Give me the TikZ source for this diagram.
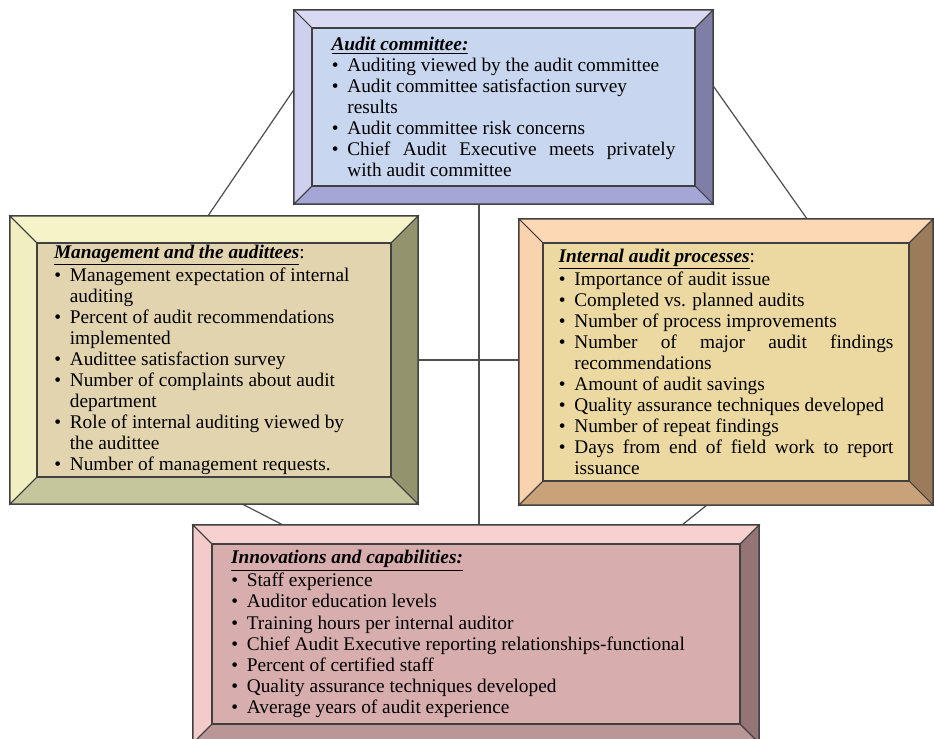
\documentclass[tikz,border=0pt]{standalone}
\usepackage{fontspec}
\setmainfont{Liberation Serif}
\usepackage{enumitem}
\usepackage{tikz}
\usetikzlibrary{backgrounds}
\usetikzlibrary{calc}
\usetikzlibrary{positioning}

\definecolor{acTop}{HTML}{D9D9F3}
\definecolor{acLeft}{HTML}{CFCFEE}
\definecolor{acRight}{HTML}{7E7EA6}
\definecolor{acBot}{HTML}{A6A6D6}
\definecolor{acFace}{HTML}{C9D6EF}
\definecolor{maTop}{HTML}{F6F3C9}
\definecolor{maLeft}{HTML}{F1EEC2}
\definecolor{maRight}{HTML}{93946E}
\definecolor{maBot}{HTML}{C6C69C}
\definecolor{maFace}{HTML}{E3D4B0}
\definecolor{ipTop}{HTML}{FCD8B4}
\definecolor{ipLeft}{HTML}{F8D3AE}
\definecolor{ipRight}{HTML}{9C7B5B}
\definecolor{ipBot}{HTML}{C9A27A}
\definecolor{ipFace}{HTML}{ECD9A2}
\definecolor{icTop}{HTML}{F7D0D0}
\definecolor{icLeft}{HTML}{F3CBCB}
\definecolor{icRight}{HTML}{947474}
\definecolor{icBot}{HTML}{BA9696}
\definecolor{icFace}{HTML}{D8ADAE}
\definecolor{linkgray}{HTML}{505050}

\setlist[itemize]{nosep, leftmargin=9pt, labelsep=5pt, labelwidth=4pt, label=\textbullet}

% bevel round an outer node: node, width, top, left, right, bottom
\newcommand{\bevelframe}[6]{%
  \filldraw[fill=#3] (#1.north west) -- (#1.north east) -- ($(#1.north east)+(-#2,#2)$) -- ($(#1.north west)+(#2,#2)$) -- cycle;
  \filldraw[fill=#4] (#1.north west) -- ($(#1.north west)+(#2,#2)$) -- ($(#1.south west)+(#2,-#2)$) -- (#1.south west) -- cycle;
  \filldraw[fill=#5] (#1.north east) -- ($(#1.north east)+(-#2,#2)$) -- ($(#1.south east)+(-#2,-#2)$) -- (#1.south east) -- cycle;
  \filldraw[fill=#6] (#1.south west) -- ($(#1.south west)+(#2,-#2)$) -- ($(#1.south east)+(-#2,-#2)$) -- (#1.south east) -- cycle;
}

\begin{document}
\begin{tikzpicture}[
            x = 0.02cm, y = -0.02cm, % pixel grid
            line join = miter,
            draw = black!75,
            line width = 0.6pt
        ]

        \tikzstyle{frame}=[
            draw = black!75,
            inner sep = 0pt,
            outer sep = 0pt
        ]
        \tikzstyle{facetext}=[
            frame,
            align = justify,
            font = \fontsize{11}{12}\selectfont
        ]
        \tikzstyle{link}=[
            draw = linkgray,
            line width = 0.7pt
        ]

        \useasboundingbox (0,0) rectangle (934,738);

	% audit committee
        \node[frame, minimum width=419*0.02cm, minimum height=194*0.02cm] (acO) at (503.5,107) {};
        \bevelframe{acO}{18}{acTop}{acLeft}{acRight}{acBot}
        \node[facetext, fill=acFace, minimum width=383*0.02cm, minimum height=158*0.02cm, text width=6.88cm] (ac) at (acO) {%
            \underline{\textbf{\textit{Audit committee:}}}
            \begin{itemize}
            \item Auditing viewed by the audit committee
            \item Audit committee satisfaction survey\newline results
            \item Audit committee risk concerns
            \item Chief Audit Executive meets privately\linebreak with audit committee
            \end{itemize}};

        % management and the audittees
        \node[frame, minimum width=408*0.02cm, minimum height=288*0.02cm] (maO) at (214,360) {};
        \bevelframe{maO}{27}{maTop}{maLeft}{maRight}{maBot}
        \node[facetext, fill=maFace, minimum width=354*0.02cm, minimum height=234*0.02cm, text width=6.4cm] (ma) at (maO) {%
            \underline{\textbf{\textit{Management and the audittees}}}:
            \begin{itemize}
            \item Management expectation of internal\newline auditing
            \item Percent of audit recommendations\newline implemented
            \item Audittee satisfaction survey
            \item Number of complaints about audit\newline department
            \item Role of internal auditing viewed by\newline the audittee
            \item Number of management requests.
            \end{itemize}};

        % internal audit processes
        \node[frame, minimum width=414*0.02cm, minimum height=286*0.02cm] (ipO) at (726,362) {};
        \bevelframe{ipO}{24}{ipTop}{ipLeft}{ipRight}{ipBot}
        \node[facetext, fill=ipFace, minimum width=366*0.02cm, minimum height=238*0.02cm, text width=6.7cm] (ip) at (ipO) {%
            \underline{\textbf{\textit{Internal audit processes}}}:
            \begin{itemize}
            \item Importance of audit issue
            \item Completed vs. planned audits
            \item Number of process improvements
            \item Number of major audit findings\linebreak recommendations
            \item Amount of audit savings
            \item Quality assurance techniques developed
            \item Number of repeat findings
            \item Days from end of field work to report\linebreak issuance
            \end{itemize}};

        % innovations and capabilities
        \node[frame, minimum width=566*0.02cm, minimum height=218*0.02cm] (icO) at (476,634) {};
        \bevelframe{icO}{19}{icTop}{icLeft}{icRight}{icBot}
        \node[facetext, fill=icFace, minimum width=528*0.02cm, minimum height=180*0.02cm, text width=9.8cm] (ic) at (icO) {%
            \underline{\textbf{\textit{Innovations and capabilities:}}}
            \begin{itemize}
            \item Staff experience
            \item Auditor education levels
            \item Training hours per internal auditor
            \item Chief Audit Executive reporting relationships-functional
            \item Percent of certified staff
            \item Quality assurance techniques developed
            \item Average years of audit experience
            \end{itemize}};

        % links
        \begin{scope}[on background layer]
            \draw[link] ($(acO.north west)!0.41!(acO.south west)$) -- ($(maO.north west)!0.485!(maO.north east)$);
            \draw[link] ($(acO.north east)!0.39!(acO.south east)$) -- ($(ipO.north west)!0.696!(ipO.north east)$);
            \draw[link] ($(maO.south west)!0.569!(maO.south east)$) -- ($(icO.north west)!0.159!(icO.north east)$);
            \draw[link] ($(ipO.south west)!0.454!(ipO.south east)$) -- ($(icO.north west)!0.864!(icO.north east)$);
            \coordinate (vtop) at ($(acO.south west)!0.4415!(acO.south east)$);
            \draw[link] (vtop) -- (vtop |- icO.north);
            \draw[link] (maO.east) -- (maO.east -| ipO.west);
        \end{scope}

\end{tikzpicture}
\end{document}
